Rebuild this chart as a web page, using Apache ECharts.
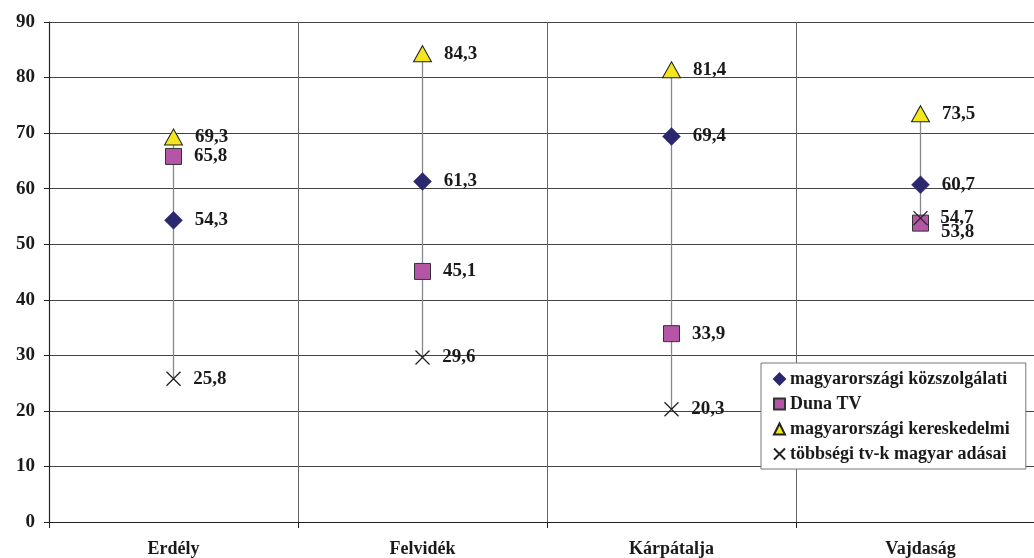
<!DOCTYPE html>
<html>
<head>
<meta charset="utf-8">
<script src="https://cdn.jsdelivr.net/npm/echarts@6/dist/echarts.min.js"></script>
<style>
  html, body { margin: 0; padding: 0; background: #fff; }
  #chart { width: 1034px; height: 558px; }
</style>
</head>
<body>
<div id="chart"></div>
<script>
// Regions
const categories = ['Erdély', 'Felvidék', 'Kárpátalja', 'Vajdaság'];

// Share of viewers per channel group (%)
const kozszolgalati = [54.3, 61.3, 69.4, 60.7];
const dunaTV = [65.8, 45.1, 33.9, 53.8];
const kereskedelmi = [69.3, 84.3, 81.4, 73.5];
const tobbsegi = [25.8, 29.6, 20.3, 54.7];

const seriesNames = [
  'magyarországi közszolgálati',
  'Duna TV',
  'magyarországi kereskedelmi',
  'többségi tv-k magyar adásai'
];

const FONT = '"Liberation Serif", "DejaVu Serif", serif';
const fmt = v => v.toFixed(1).replace('.', ',');

// Min–max range per region for the connecting line
const allSeries = [kozszolgalati, dunaTV, kereskedelmi, tobbsegi];
const ranges = categories.map((c, i) => {
  const vals = allSeries.map(s => s[i]);
  return [i, Math.min(...vals), Math.max(...vals)];
});

const labelStyle = {
  show: true,
  position: 'right',
  distance: 12,
  fontFamily: FONT,
  fontWeight: 'bold',
  fontSize: 19,
  color: '#1a1a1a',
  formatter: p => fmt(p.value)
};

const chart = echarts.init(document.getElementById('chart'), null, { renderer: 'canvas' });

chart.setOption({
  animation: false,
  backgroundColor: '#fff',
  grid: { left: 49, top: 22, width: 996, height: 500, outerBoundsMode: 'none', containLabel: false },
  legend: {
    orient: 'vertical',
    left: 761,
    top: 363,
    padding: [7, 16, 6, 12],
    itemGap: 7,
    itemWidth: 11,
    itemHeight: 11,
    backgroundColor: '#fff',
    borderColor: '#777',
    borderWidth: 1,
    textStyle: { fontFamily: FONT, fontWeight: 'bold', fontSize: 18, color: '#1a1a1a', padding: [0, 0, 0, 0] },
    data: seriesNames
  },
  xAxis: {
    type: 'category',
    data: categories,
    boundaryGap: true,
    axisLine: { lineStyle: { color: '#222', width: 1.2 } },
    axisTick: { show: true, length: 6, lineStyle: { color: '#222' } },
    axisLabel: { fontFamily: FONT, fontWeight: 'bold', fontSize: 18, color: '#1a1a1a', margin: 18 },
    splitLine: { show: true, lineStyle: { color: '#666', width: 1 } }
  },
  yAxis: {
    type: 'value',
    min: 0,
    max: 90,
    interval: 10,
    axisLine: { show: true, lineStyle: { color: '#222', width: 1.2 } },
    axisTick: { show: true, length: 5, lineStyle: { color: '#222' } },
    axisLabel: { fontFamily: FONT, fontWeight: 'bold', fontSize: 19, color: '#1a1a1a', margin: 14 },
    splitLine: { show: true, lineStyle: { color: '#444', width: 1 } }
  },
  series: [
    {
      type: 'custom',
      silent: true,
      z: 1,
      data: ranges,
      renderItem: (params, api) => {
        const a = api.coord([api.value(0), api.value(1)]);
        const b = api.coord([api.value(0), api.value(2)]);
        return {
          type: 'line',
          shape: { x1: a[0], y1: a[1], x2: b[0], y2: b[1] },
          style: { stroke: '#888', lineWidth: 1.3 }
        };
      }
    },
    {
      name: seriesNames[0],
      type: 'scatter',
      z: 3,
      symbol: 'diamond',
      symbolSize: [18, 18],
      itemStyle: { color: '#2B2870', borderColor: '#2B2870', borderWidth: 0.5, opacity: 1 },
      label: labelStyle,
      data: kozszolgalati
    },
    {
      name: seriesNames[1],
      type: 'scatter',
      z: 3,
      symbol: 'rect',
      symbolSize: 16,
      itemStyle: { color: '#B455A5', borderColor: '#333', borderWidth: 1, opacity: 1 },
      label: labelStyle,
      data: dunaTV.map((v, i) => i === 3
        ? { value: v, label: { offset: [0, 9] } }
        : v)
    },
    {
      name: seriesNames[2],
      type: 'scatter',
      z: 3,
      symbol: 'triangle',
      symbolSize: [18, 16],
      itemStyle: { color: '#F2E61E', borderColor: '#222', borderWidth: 1, opacity: 1 },
      label: labelStyle,
      data: kereskedelmi
    },
    {
      name: seriesNames[3],
      type: 'scatter',
      z: 4,
      symbol: 'path://M0,0L10,10M10,0L0,10',
      symbolSize: 14,
      itemStyle: { color: 'rgba(0,0,0,0)', borderColor: '#222', borderWidth: 1.3, opacity: 1 },
      label: labelStyle,
      data: tobbsegi
    }
  ]
});
</script>
</body>
</html>
